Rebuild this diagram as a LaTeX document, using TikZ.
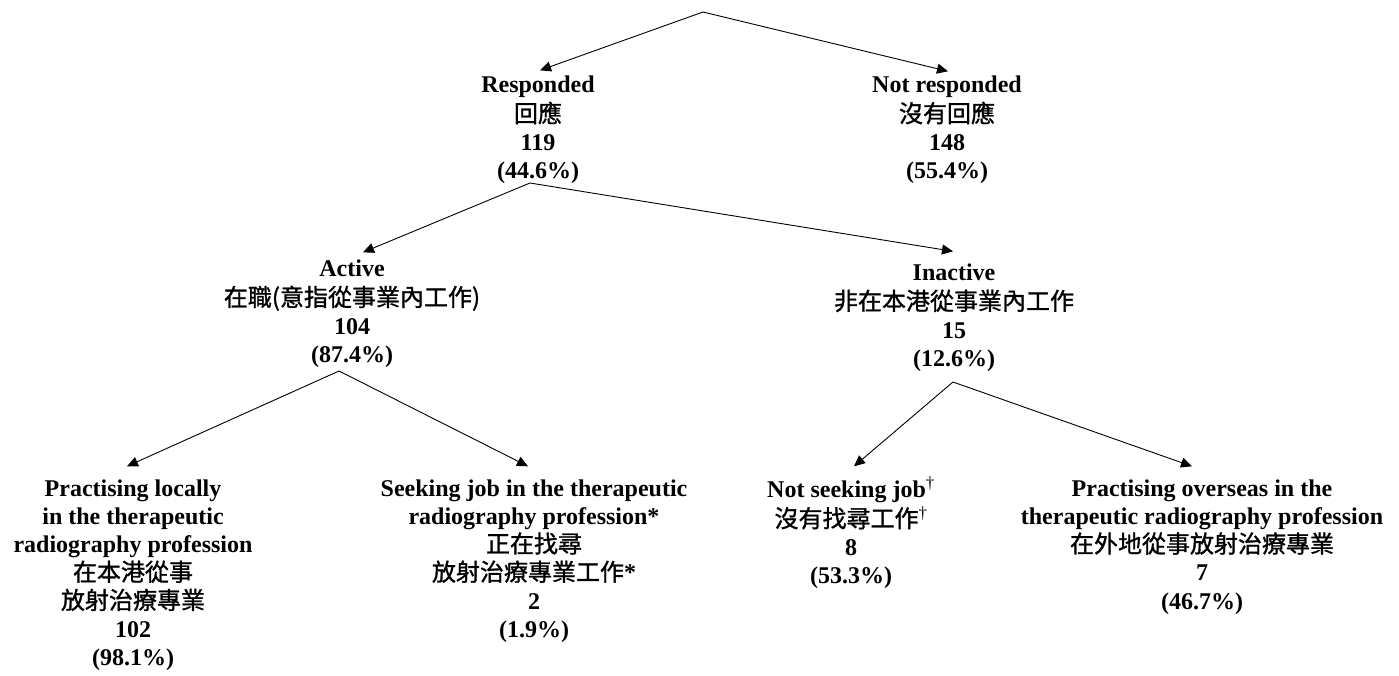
\documentclass[tikz,border=0pt]{standalone}
\usepackage{fontspec}
\setmainfont{Liberation Serif}
\newfontfamily\cjk[FakeBold=1.2]{Noto Sans CJK TC}
\usetikzlibrary{arrows.meta,calc}
\newcommand{\zh}[1]{{\cjk\mdseries #1}}
\begin{document}
\begin{tikzpicture}[x=1pt,y=-1pt,
  lbl/.style={anchor=north, inner sep=0pt, align=center,
    font=\fontsize{24}{28.2}\selectfont\bfseries},
  arr/.style={-{Triangle[length=11pt,width=10pt]}, line width=0.9pt}]
\useasboundingbox (0,0) rectangle (1399,675);

% nodes
\node[lbl] (resp) at (538,72.3) {\strut Responded\\\zh{回應}\\119\\(44.6\%)};
\node[lbl] (notresp) at (947,72.3) {\strut Not responded\\\zh{沒有回應}\\148\\(55.4\%)};
\node[lbl] (act) at (352,256.3) {\strut Active\\\zh{在職(意指從事業內工作)}\\104\\(87.4\%)};
\node[lbl] (inact) at (954,260.3) {\strut Inactive\\\zh{非在本港從事業內工作}\\15\\(12.6\%)};
\node[lbl] (local) at (133,476.3) {\strut Practising locally\\in the therapeutic\\radiography profession\\\zh{在本港從事}\\\zh{放射治療專業}\\102\\(98.1\%)};
\node[lbl] (seek) at (534,476.3) {\strut Seeking job in the therapeutic\\radiography profession*\\\zh{正在找尋}\\\zh{放射治療專業工作}*\\2\\(1.9\%)};
\node[lbl] (notseek) at (851,476.3) {\strut Not seeking job\textsuperscript{\mdseries †}\\\zh{沒有找尋工作}\textsuperscript{\mdseries †}\\8\\(53.3\%)};
\node[lbl] (overseas) at (1202,476.3) {\strut Practising overseas in the\\therapeutic radiography profession\\\zh{在外地從事放射治療專業}\\7\\(46.7\%)};

% branching points
\coordinate (root) at (703,12);
\coordinate (respApex) at (530,183);
\coordinate (actApex) at (339,371);
\coordinate (inactApex) at (953,382);

% connectors
\draw[arr] (root) -- ($(resp.north)+(2,-2)$);
\draw[arr] (root) -- ($(notresp.north)+(1,-1)$);
\draw[arr] (respApex) -- ($(act.north)+(11,-4)$);
\draw[arr] (respApex) -- ($(inact.north)+(-1,-9)$);
\draw[arr] (actApex) -- ($(local.north)+(-6,-10)$);
\draw[arr] (actApex) -- ($(seek.north)+(-6,-10)$);
\draw[arr] (inactApex) -- ($(notseek.north)+(3,-10)$);
\draw[arr] (inactApex) -- ($(overseas.north)+(-10,-10)$);
\end{tikzpicture}
\end{document}
